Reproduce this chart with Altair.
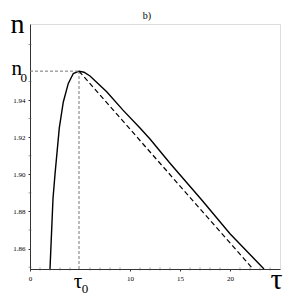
import altair as alt
import pandas as pd

# solid curve n(tau)
tau_solid = [2.0, 2.3, 2.5, 2.93, 3.33, 3.83, 4.33, 4.9, 5.4, 6.0, 7.67, 9.3, 11.0, 12.0, 14.0, 17.2, 20.0, 23.4]
n_solid = [1.849, 1.887, 1.900, 1.925, 1.939, 1.949, 1.9543, 1.9556, 1.955, 1.953, 1.9445, 1.9346, 1.925, 1.919, 1.906, 1.886, 1.868, 1.849]

# dashed straight line from the maximum
tau_dash = [4.9, 22.3]
n_dash = [1.9556, 1.849]

tau0 = 4.9
n0 = 1.9556

x_labels = [0, 10, 15, 20]
x_minor = [1, 2, 3, 4, 6, 7, 8, 9, 11, 12, 13, 14, 16, 17, 18, 19, 21, 22, 23, 24]
y_labels = [1.86, 1.88, 1.90, 1.92, 1.94]
y_minor = [1.85, 1.87, 1.89, 1.91, 1.93, 1.95, 1.97]

XDOM = [0, 25]
YDOM = [1.849, 1.981]

solid = pd.DataFrame({"tau": tau_solid, "n": n_solid})
dash = pd.DataFrame({"tau": tau_dash, "n": n_dash})
hline = pd.DataFrame({"tau": [0, tau0], "n": [n0, n0]})
vline = pd.DataFrame({"tau": [tau0, tau0], "n": [YDOM[0], n0]})
xm = pd.DataFrame({"tau": x_minor, "n": [YDOM[0]] * len(x_minor)})
ym = pd.DataFrame({"tau": [0.0] * len(y_minor), "n": y_minor})

FONT = "Liberation Serif"

xenc = alt.X("tau:Q", scale=alt.Scale(domain=XDOM, nice=False, zero=False),
             axis=alt.Axis(values=x_labels, format="d", labelOverlap=False, labelFlush=False,
                           grid=False, tickSize=2, labelFontSize=7, labelFont=FONT, labelPadding=3,
                           labelColor="#000000",
                           title="τ", titleFont=FONT, titleFontSize=30, titleFontWeight="normal",
                           titleX=246, titleY=19, titleBaseline="alphabetic", titleAngle=0,
                           titleColor="#000000", domainColor="#333", tickColor="#333"))
yenc = alt.Y("n:Q", scale=alt.Scale(domain=YDOM, nice=False, zero=False),
             axis=alt.Axis(values=y_labels, format=".2f", labelOverlap=False, labelFlush=False,
                           grid=False, tickSize=2, labelFontSize=7, labelFont=FONT, labelPadding=3,
                           labelColor="#000000",
                           title="n", titleFont=FONT, titleFontSize=28, titleFontWeight="normal",
                           titleAngle=0, titleX=-13, titleY=8, titleBaseline="alphabetic",
                           titleColor="#000000", domainColor="#333", tickColor="#333"))

l_solid = alt.Chart(solid).mark_line(color="black", strokeWidth=1.4, clip=True).encode(x=xenc, y=yenc)
l_dash = alt.Chart(dash).mark_line(color="black", strokeWidth=1.2, strokeDash=[5, 3], clip=True).encode(x="tau:Q", y="n:Q")
l_h = alt.Chart(hline).mark_line(color="#777", strokeWidth=1, strokeDash=[3, 2]).encode(x="tau:Q", y="n:Q")
l_v = alt.Chart(vline).mark_line(color="#777", strokeWidth=1, strokeDash=[3, 2]).encode(x="tau:Q", y="n:Q")
t_xm = alt.Chart(xm).mark_tick(color="#555", orient="vertical", size=3, thickness=0.8).encode(x="tau:Q", y="n:Q")
t_ym = alt.Chart(ym).mark_tick(color="#555", orient="horizontal", size=3, thickness=0.8).encode(x="tau:Q", y="n:Q")

lab_n = pd.DataFrame({"tau": [0], "n": [n0]})
t_n = alt.Chart(lab_n).mark_text(text="n", fill="#000000", font=FONT, fontSize=21, align="right", baseline="alphabetic", dx=-8, dy=4).encode(x="tau:Q", y="n:Q")
t_n0 = alt.Chart(lab_n).mark_text(text="0", fill="#000000", font=FONT, fontSize=13, align="right", baseline="alphabetic", dx=-3, dy=11).encode(x="tau:Q", y="n:Q")

lab_t = pd.DataFrame({"tau": [tau0], "n": [YDOM[0]]})
t_t = alt.Chart(lab_t).mark_text(text="τ", fill="#000000", font=FONT, fontSize=21, align="center", baseline="alphabetic", dx=-1, dy=19).encode(x="tau:Q", y="n:Q")
t_t0 = alt.Chart(lab_t).mark_text(text="0", fill="#000000", font=FONT, fontSize=13, align="center", baseline="alphabetic", dx=6, dy=24).encode(x="tau:Q", y="n:Q")

lab_b = pd.DataFrame({"tau": [11.7], "n": [YDOM[1]]})
t_b = alt.Chart(lab_b).mark_text(text="b)", fill="#000000", font=FONT, fontSize=10, align="center", baseline="alphabetic", dy=-5).encode(x="tau:Q", y="n:Q")

chart = alt.layer(l_solid, l_h, l_v, l_dash, t_xm, t_ym, t_n, t_n0, t_t, t_t0, t_b).properties(
    width=250, height=245,
    padding={"left": 22, "top": 16, "right": 10, "bottom": 26},
    autosize=alt.AutoSizeParams(type="none"),
).configure_view(stroke="#777", strokeWidth=1.2).configure(background="white")

chart.save("out.html", embed_options={"renderer": "svg", "actions": False})
